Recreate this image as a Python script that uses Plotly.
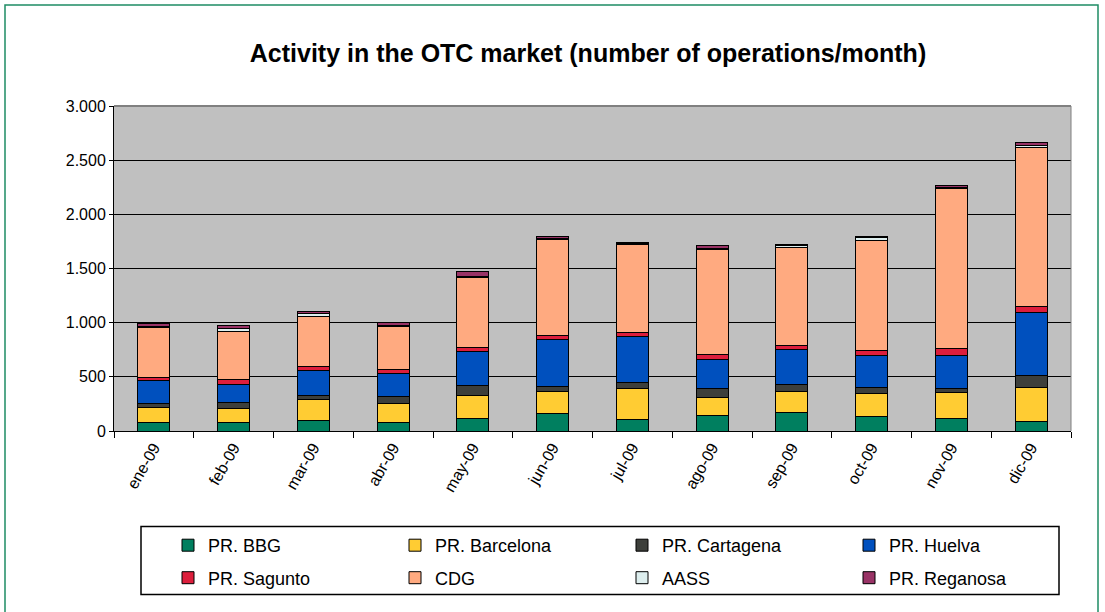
import plotly.graph_objects as go

months = ["ene-09", "feb-09", "mar-09", "abr-09", "may-09", "jun-09",
          "jul-09", "ago-09", "sep-09", "oct-09", "nov-09", "dic-09"]

bbg       = [83, 74, 96, 74, 120, 160, 108, 145, 175, 136, 120, 92]
barcelona = [133, 133, 194, 179, 210, 206, 283, 160, 191, 209, 231, 314]
cartagena = [37, 58, 40, 67, 89, 49, 61, 86, 62, 55, 40, 108]
huelva    = [209, 163, 230, 215, 317, 431, 416, 271, 326, 299, 308, 584]
sagunto   = [36, 49, 37, 32, 39, 37, 40, 46, 37, 46, 61, 53]
cdg       = [462, 437, 462, 399, 646, 886, 815, 969, 907, 1015, 1477, 1470]
aass      = [5, 28, 24, 5, 5, 5, 5, 5, 12, 25, 12, 16]
reganosa  = [26, 36, 19, 29, 42, 26, 12, 33, 13, 15, 13, 30]

series = [
    ("PR. BBG", bbg, "#007F5F", "legend"),
    ("PR. Barcelona", barcelona, "#FFCC33", "legend"),
    ("PR. Cartagena", cartagena, "#3D3F3B", "legend"),
    ("PR. Huelva", huelva, "#0050BE", "legend"),
    ("PR. Sagunto", sagunto, "#DC1E3C", "legend2"),
    ("CDG", cdg, "#FFAA80", "legend2"),
    ("AASS", aass, "#DDEEEE", "legend2"),
    ("PR. Reganosa", reganosa, "#993366", "legend2"),
]

fig = go.Figure()
for name, vals, col, leg in series:
    fig.add_trace(go.Bar(
        x=months, y=vals, name=name, legend=leg,
        marker=dict(color=col, line=dict(color="black", width=1)),
    ))

L, R, T, B = 114, 1071, 106, 431
W, H = 1105, 612
def px(x):
    return (x - L) / (R - L)
def py(y):
    return (B - y) / (B - T)

font = "Liberation Sans, Arial, sans-serif"

legend_common = dict(orientation="h", xanchor="left", yanchor="middle",
                     borderwidth=0, bgcolor="rgba(0,0,0,0)",
                     font=dict(size=18, family=font, color="black"),
                     entrywidth=182, entrywidthmode="pixels",
                     traceorder="normal", itemwidth=30)

fig.update_layout(
    width=W, height=H,
    barmode="stack", bargap=0.6,
    separators=",.",
    paper_bgcolor="white", plot_bgcolor="#C0C0C0",
    margin=dict(l=L, r=W - R, t=T, b=H - B, pad=0, autoexpand=False),
    font=dict(family=font, color="black", size=15),
    title=dict(text="<b>Activity in the OTC market (number of operations/month)</b>",
               x=px(588), xref="paper", xanchor="center",
               y=1 - 53 / H, yref="container", yanchor="middle",
               font=dict(size=25, family=font, color="black")),
    showlegend=True,
    legend=dict(x=px(168), y=py(545.5), **legend_common),
    legend2=dict(x=px(168), y=py(578), **legend_common),
    xaxis=dict(showline=True, linecolor="black", linewidth=1,
               ticks="outside", tickson="boundaries", ticklen=6, tickcolor="black",
               tickangle=-60, tickfont=dict(size=16), showgrid=False),
    yaxis=dict(range=[0, 3000], dtick=500, tickformat=",d",
               showline=True, linecolor="black", linewidth=1,
               ticks="outside", ticklen=4, tickcolor="black",
               showgrid=True, gridcolor="black", gridwidth=1,
               tickfont=dict(size=16), zeroline=False),
    shapes=[
        dict(type="line", xref="paper", yref="paper", x0=0, x1=1, y0=1, y1=1,
             line=dict(color="#808080", width=2)),
        dict(type="line", xref="paper", yref="paper", x0=1, x1=1, y0=0, y1=1,
             line=dict(color="#808080", width=1)),
        dict(type="rect", xref="paper", yref="paper",
             x0=px(5), x1=px(1098), y0=py(5), y1=py(640),
             line=dict(color="#1E8C64", width=1.5), layer="below"),
        dict(type="rect", xref="paper", yref="paper",
             x0=px(141), x1=px(1059), y0=py(526.5), y1=py(594.5),
             line=dict(color="black", width=1.5), layer="below"),
    ],
)

fig.write_html("out.html", config={"displayModeBar": False},
               post_script="document.body.style.margin='0';document.body.style.overflow='hidden';")
